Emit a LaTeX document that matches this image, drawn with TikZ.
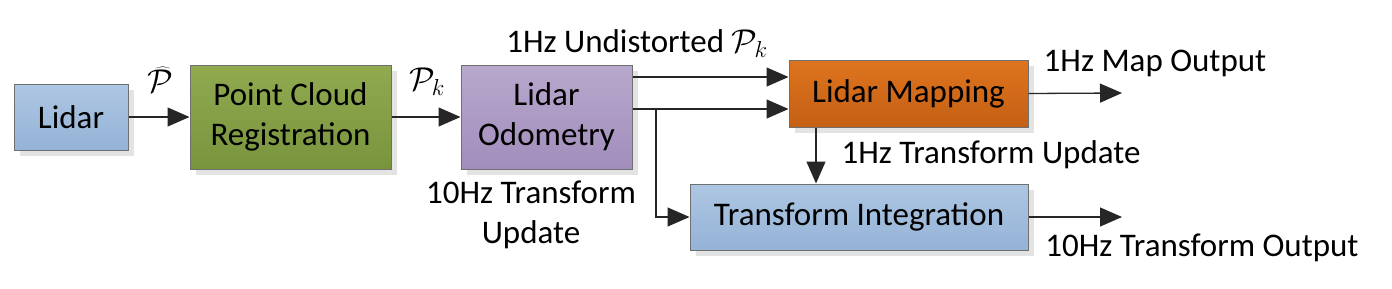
\documentclass[tikz,border=0pt]{standalone}
\usepackage{fix-cm}
\usepackage{fontspec}
\setmainfont{Carlito}
\usetikzlibrary{arrows.meta,shadows,calc}
\definecolor{bluetop}{HTML}{ADC6E2}
\definecolor{bluebot}{HTML}{95B3D7}
\definecolor{greentop}{HTML}{91AA50}
\definecolor{greenbot}{HTML}{78943D}
\definecolor{purptop}{HTML}{B7A8CC}
\definecolor{purpbot}{HTML}{A28DBC}
\definecolor{orgtop}{HTML}{DE741E}
\definecolor{orgbot}{HTML}{C46014}
\definecolor{boxline}{HTML}{6F6F6F}
\tikzset{
  blockbox/.style={draw=boxline, line width=1pt, inner sep=0pt, align=center,
    drop shadow={shadow xshift=6pt, shadow yshift=-6pt, fill=black!11, opacity=1},
    font=\fontsize{33}{40}\selectfont},
  bluebox/.style={blockbox, top color=bluetop, bottom color=bluebot},
  greenbox/.style={blockbox, top color=greentop, bottom color=greenbot},
  purpbox/.style={blockbox, top color=purptop, bottom color=purpbot},
  orgbox/.style={blockbox, top color=orgtop, bottom color=orgbot},
  lbl/.style={inner sep=0pt, align=center, font=\fontsize{33}{40}\selectfont},
  arr/.style={draw=black!85, line width=1.3pt, -{Triangle[length=22pt,width=19pt]}},
  ln/.style={draw=black!85, line width=1.3pt}
}
\begin{document}
\begin{tikzpicture}[x=1pt,y=-1pt]
\useasboundingbox (0,0) rectangle (1392,289);
\node[bluebox, minimum width=114pt, minimum height=66pt] (lidar) at (71,117) {Lidar};
\node[greenbox, minimum width=201pt, minimum height=104pt] (pcr) at (290.5,117) {Point Cloud\\Registration};
\node[purpbox, minimum width=171pt, minimum height=104pt] (lo) at (546.5,117) {Lidar\\Odometry};
\node[orgbox, minimum width=239pt, minimum height=67pt] (lm) at (908.5,93.5) {Lidar Mapping};
\node[bluebox, minimum width=338pt, minimum height=66pt] (ti) at (859,217) {Transform Integration};

\node[lbl] (phat) at (160,80) {$\widehat{\mathcal{P}}$};
\node[lbl] (pk) at (427,82) {$\mathcal{P}_k$};
\node[lbl] (undist) at (637,44) {1Hz Undistorted $\mathcal{P}_k$};
\node[lbl] (tenhz) at (531,215) {10Hz Transform\\Update};
\node[lbl] (onehz) at (991,155) {1Hz Transform Update};
\node[lbl] (mapout) at (1155,63) {1Hz Map Output};
\node[lbl] (tfout) at (1202,248) {10Hz Transform Output};

\coordinate (br) at (656,109);
\coordinate (o1) at (1122,93);
\coordinate (o2) at (1122,217);

\draw[arr] (lidar.east) -- (pcr.west);
\draw[arr] (pcr.east) -- (lo.west);
\draw[arr] (lo.east |- 0,77) -- (lm.west |- 0,77);
\draw[arr] (lo.east |- br) -- (lm.west |- br);
\draw[arr] (br) |- (ti.west);
\draw[arr] (lm.south -| 816,0) -- (ti.north -| 816,0);
\draw[arr] (lm.east) -- (o1);
\draw[arr] (ti.east) -- (o2);
\end{tikzpicture}
\end{document}
